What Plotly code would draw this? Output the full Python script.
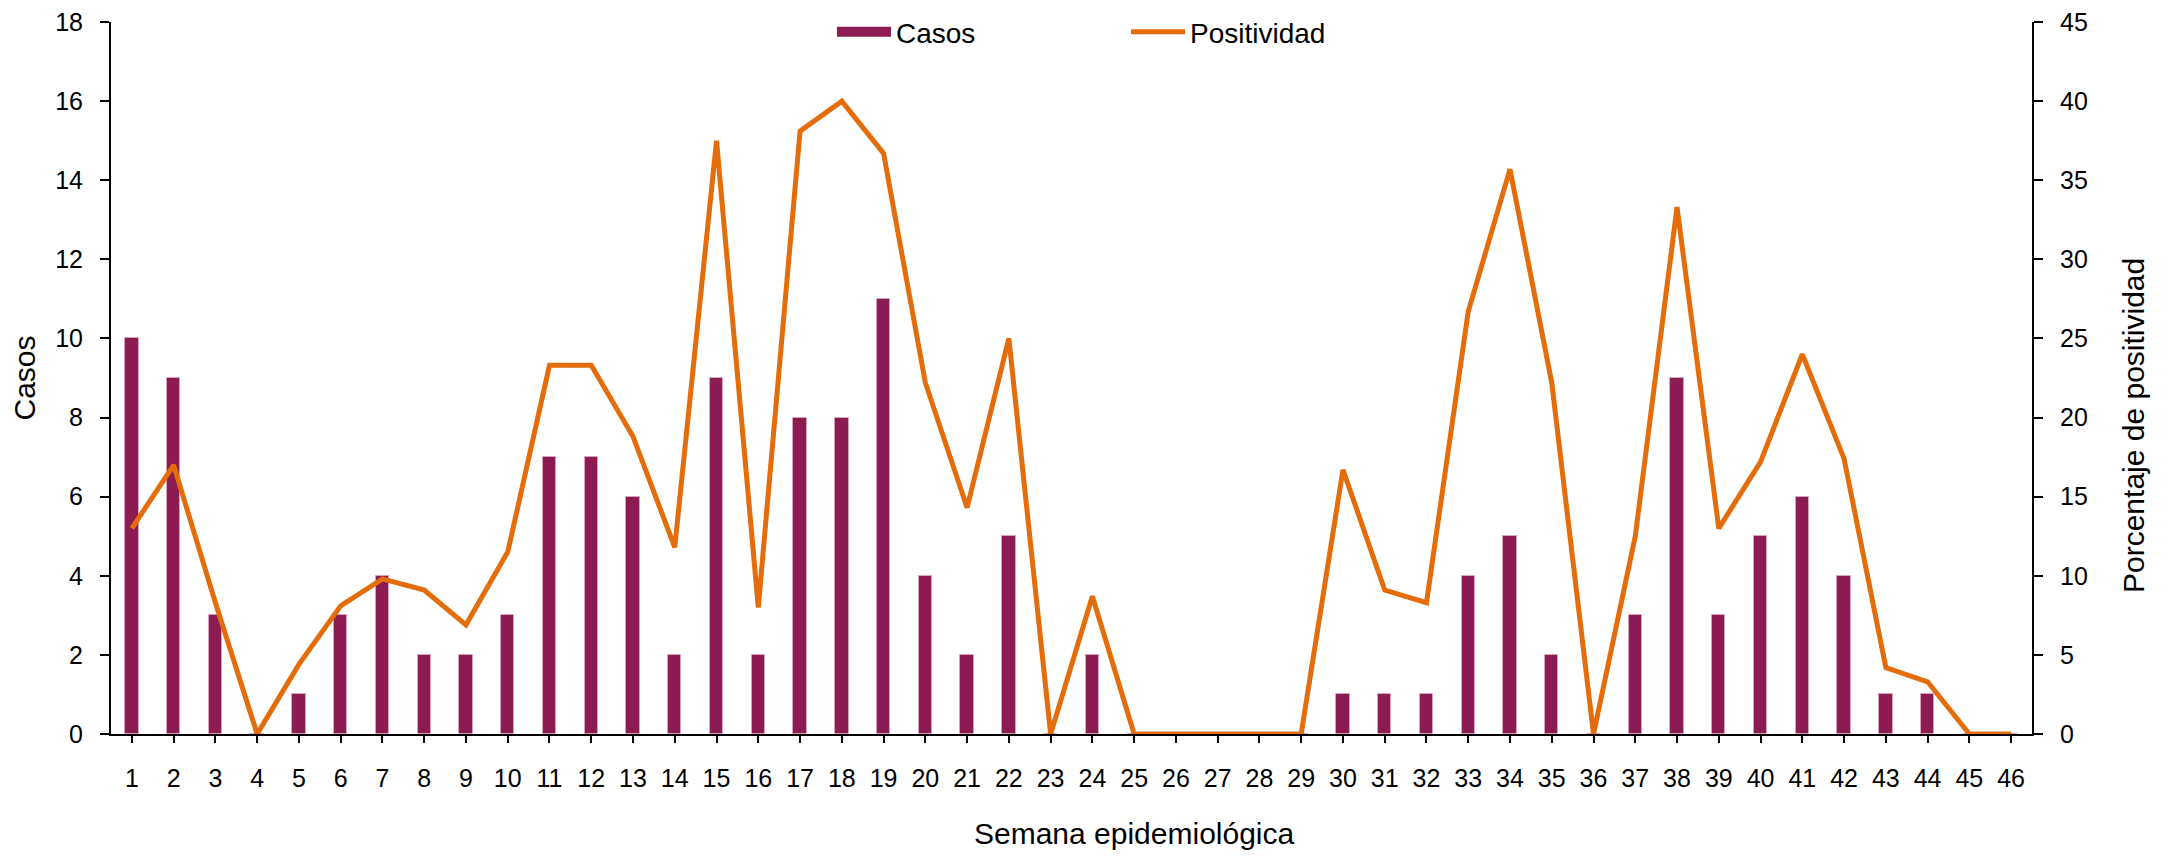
import plotly.graph_objects as go

# Semana epidemiológica
semanas = [str(s) for s in range(1, 47)]

# Casos por semana (eje izquierdo)
casos = [10, 9, 3, 0, 1, 3, 4, 2, 2, 3,
         7, 7, 6, 2, 9, 2, 8, 8, 11, 4,
         2, 5, 0, 2, 0, 0, 0, 0, 0, 1,
         1, 1, 4, 5, 2, 0, 3, 9, 3, 5,
         6, 4, 1, 1, 0, 0]

# Porcentaje de positividad (eje derecho)
positividad = [13.0, 17.0, 8.3, 0.0, 4.4, 8.1, 9.8, 9.1, 6.9, 11.5,
               23.3, 23.3, 18.8, 11.8, 37.5, 8.0, 38.1, 40.0, 36.7, 22.2,
               14.3, 25.0, 0.0, 8.7, 0.0, 0.0, 0.0, 0.0, 0.0, 16.7,
               9.1, 8.3, 26.7, 35.7, 22.2, 0.0, 12.5, 33.3, 13.0, 17.2,
               24.0, 17.4, 4.2, 3.3, 0.0, 0.0]

FUENTE = "Liberation Sans"
COLOR_BARRA = "#8C1B52"
COLOR_LINEA = "#E46C0A"

# la página tiene 8px de margen en el body: se compensa aquí
W, H = 2153, 845

fig = go.Figure()

fig.add_trace(go.Bar(
    x=semanas, y=casos, name="Casos", showlegend=False,
    marker=dict(color=COLOR_BARRA, line=dict(color="#D9A3BD", width=1)),
    width=0.32,
))
# solo para la leyenda (rectángulo ancho como en Excel)
fig.add_trace(go.Scatter(
    x=[None], y=[None], name="Casos", mode="lines",
    line=dict(color=COLOR_BARRA, width=17),
))

fig.add_trace(go.Scatter(
    x=semanas, y=positividad, name="Positividad", yaxis="y2",
    mode="lines", line=dict(color=COLOR_LINEA, width=5),
))

eje = dict(showgrid=False, zeroline=False, showline=True, linecolor="black",
           linewidth=2, ticks="outside", tickcolor="black", tickwidth=2,
           ticklabeloverflow="allow",
           tickfont=dict(family=FUENTE, size=25, color="black"))

fig.update_layout(
    width=W, height=H,
    margin=dict(l=103, r=129, t=14, b=119, autoexpand=False),
    paper_bgcolor="white", plot_bgcolor="white",
    font=dict(family=FUENTE, size=25, color="black"),
    bargap=0,
    xaxis=dict(**eje, type="category", range=[-0.5, 45.5], ticklen=7,
               ticklabelstandoff=14),
    yaxis=dict(**eje, range=[0, 18], dtick=2, ticklen=9, ticklabelstandoff=12,
               title=dict(text="Casos", font=dict(family=FUENTE, size=30), standoff=22)),
    yaxis2=dict(**eje, range=[0, 45], dtick=5, ticklen=9, ticklabelstandoff=12,
                overlaying="y", side="right"),
    legend=dict(orientation="h", xref="container", yref="container",
                x=(832 - 8) / W, xanchor="left",
                y=1 - (32 - 8) / H, yanchor="middle", itemwidth=54,
                font=dict(family=FUENTE, size=28), entrywidth=225,
                bgcolor="rgba(0,0,0,0)"),
    showlegend=True,
    annotations=[
        dict(text="Semana epidemiológica", xref="paper", yref="paper",
             x=(1134 - 111) / 1921, y=-0.166, xanchor="center",
             yanchor="bottom", showarrow=False,
             font=dict(family=FUENTE, size=30, color="black")),
        dict(text="Porcentaje de positividad", xref="paper", yref="paper",
             x=(2134 - 111) / 1921, y=(734 - 426) / 712, xanchor="center",
             yanchor="middle", textangle=-90, showarrow=False,
             font=dict(family=FUENTE, size=30, color="black")),
    ],
)

fig.write_html("out.html")
